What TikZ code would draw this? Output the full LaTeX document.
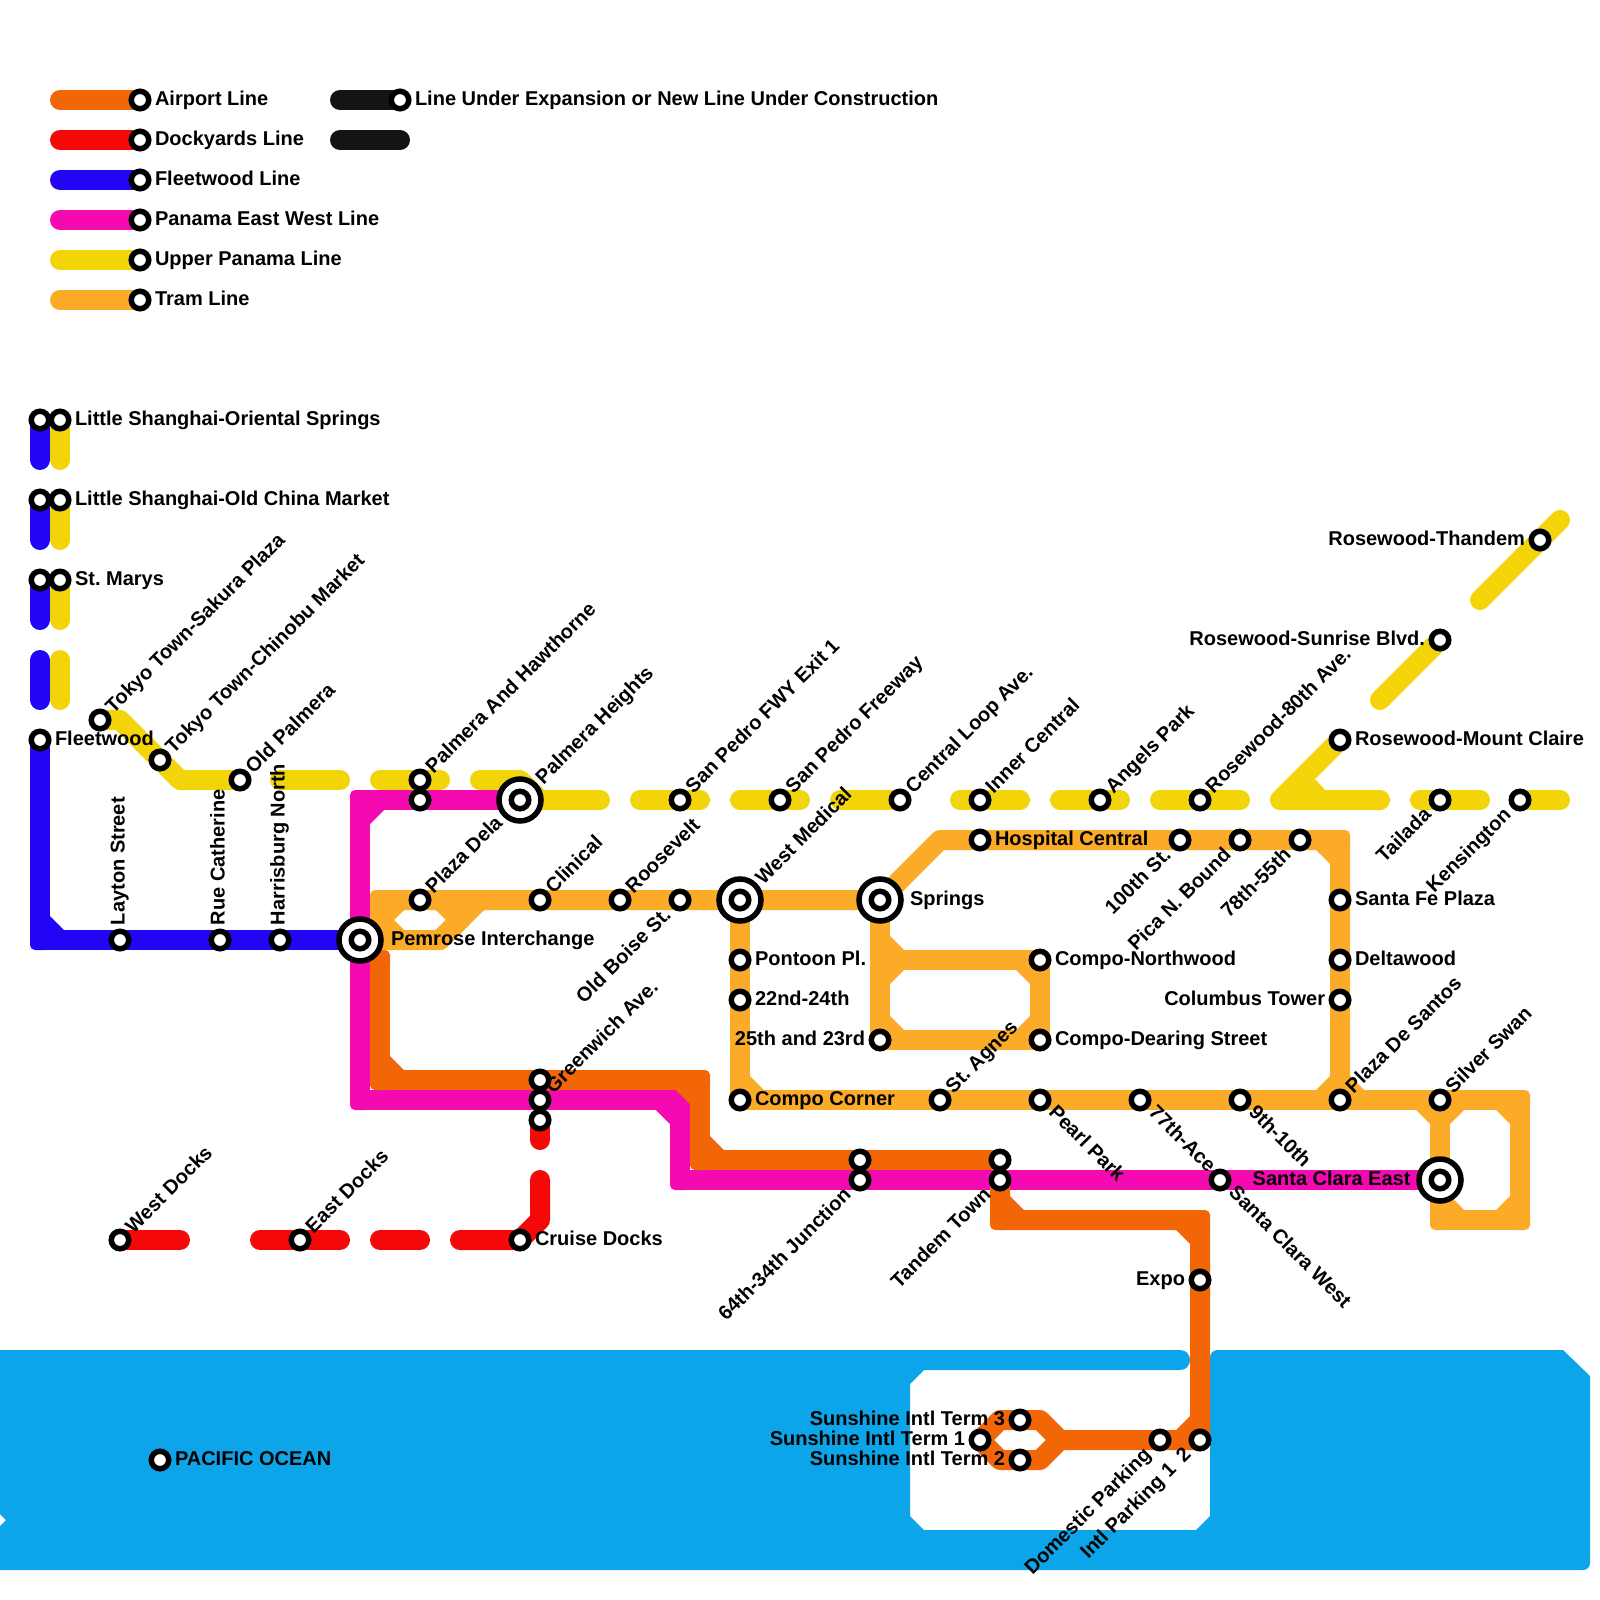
\documentclass[tikz,border=0pt]{standalone}
\usepackage{fontspec}
\setmainfont{Liberation Sans}[BoldFont={Liberation Sans Bold}]
\pgfdeclarelayer{water}
\pgfdeclarelayer{lines}
\pgfsetlayers{water,lines,main}
\definecolor{cAir}{HTML}{F36607}
\definecolor{cDock}{HTML}{F50808}
\definecolor{cFleet}{HTML}{2205F5}
\definecolor{cPan}{HTML}{F50AB2}
\definecolor{cUp}{HTML}{F2D408}
\definecolor{cTram}{HTML}{FBAB28}
\definecolor{cBlack}{HTML}{141414}
\definecolor{cWater}{HTML}{0DA5E9}
\tikzset{
  railway/.style={line width=10pt,line cap=round,line join=round},
  stn/.style={circle,draw=black,line width=2.75pt,fill=white,inner sep=0pt,outer sep=0pt,minimum size=8.75pt},
  hub/.style={circle,draw=black,line width=2.75pt,fill=white,inner sep=0pt,outer sep=0pt,minimum size=21pt},
  lbl/.style={inner sep=0pt,outer sep=0pt,text height=7.2pt,text depth=0pt,font=\fontsize{10}{12}\selectfont\bfseries\frenchspacing,text=black},
}
% station and interchange nodes
\newcommand\stn[3]{\node[stn] (#1) at (#2,#3) {};}
\newcommand\hub[3]{\node[hub] (#1) at (#2,#3) {};\node[stn] (#1-inner) at (#2,#3) {};}
% labels
\newcommand\tR[2]{\node[lbl,anchor=west] (#1-t) at ([shift={(15,-2)}]#1.center) {#2};}
\newcommand\tL[2]{\node[lbl,anchor=east] (#1-t) at ([shift={(-15,-2)}]#1.center) {#2};}
\newcommand\tU[2]{\node[lbl,anchor=west,rotate=90] (#1-t) at ([shift={(-2.5,-15)}]#1.center) {#2};}
\newcommand\tUR[2]{\node[lbl,anchor=west,rotate=45] (#1-t) at ([shift={(8.5,-11)}]#1.center) {#2};}
\newcommand\tDR[2]{\node[lbl,anchor=west,rotate=-45] (#1-t) at ([shift={(13,8.5)}]#1.center) {#2};}
\newcommand\tDL[2]{\node[lbl,anchor=east,rotate=45] (#1-t) at ([shift={(-13,11)}]#1.center) {#2};}
% corner details: rounded outer corner and chamfered inner corner
\newcommand\cham[4]{\fill[#1] ([shift={(10*#3,10*#4)}]#2) -- ([shift={(24*#3,10*#4)}]#2) -- ([shift={(10*#3,24*#4)}]#2) -- cycle;}
\newcommand\rnd[2]{\fill[#1,rounded corners=2.5pt] ([shift={(-10,-10)}]#2) rectangle ([shift={(10,10)}]#2);}
\newcommand\bend[4]{\rnd{#1}{#2}\cham{#1}{#2}{#3}{#4}}
\begin{document}
\begin{tikzpicture}[x=0.5pt,y=-0.5pt]
\useasboundingbox (0,0) rectangle (1600,1600);
% ---------- stations
\foreach \n/\y in {a/100,b/140,c/180,d/220,e/260,f/300}{\stn{leg\n}{140}{\y}}
\stn{legx}{400}{100}
\stn{ls1b}{40}{420}\stn{ls1y}{60}{420}
\stn{ls2b}{40}{500}\stn{ls2y}{60}{500}
\stn{ls3b}{40}{580}\stn{ls3y}{60}{580}
\stn{fleet}{40}{740}
\stn{layton}{120}{940}\stn{rue}{220}{940}\stn{harris}{280}{940}
\hub{pemrose}{360}{940}
\stn{sakura}{100}{720}\stn{chinobu}{160}{760}\stn{oldpal}{240}{780}
\stn{hawth}{420}{780}\stn{hawthb}{420}{800}
\hub{palmh}{520}{800}
\stn{sp1}{680}{800}\stn{sp2}{780}{800}\stn{cloop}{900}{800}\stn{inner}{980}{800}
\stn{angels}{1100}{800}\stn{rw80}{1200}{800}\stn{tail}{1440}{800}\stn{kens}{1520}{800}
\stn{rwmc}{1340}{740}\stn{rwsb}{1440}{640}\stn{rwth}{1540}{540}
\stn{dela}{420}{900}\stn{clin}{540}{900}\stn{roos}{620}{900}\stn{boise}{680}{900}
\hub{westm}{740}{900}\hub{springs}{880}{900}
\stn{pont}{740}{960}\stn{s22}{740}{1000}\stn{corner}{740}{1100}
\stn{s25}{880}{1040}\stn{cnorth}{1040}{960}\stn{cdear}{1040}{1040}
\stn{hosp}{980}{840}\stn{s100}{1180}{840}\stn{pica}{1240}{840}\stn{s78}{1300}{840}
\stn{fe}{1340}{900}\stn{delta}{1340}{960}\stn{colum}{1340}{1000}\stn{desant}{1340}{1100}
\stn{agnes}{940}{1100}\stn{pearl}{1040}{1100}\stn{ace}{1140}{1100}\stn{s9}{1240}{1100}\stn{swan}{1440}{1100}
\hub{sce}{1440}{1180}\stn{scw}{1220}{1180}
\stn{gr1}{540}{1080}\stn{gr2}{540}{1100}\stn{gr3}{540}{1120}
\stn{j64a}{860}{1160}\stn{j64b}{860}{1180}
\stn{tanda}{1000}{1160}\stn{tandb}{1000}{1180}
\stn{expo}{1200}{1280}\stn{intlp}{1200}{1440}\stn{domp}{1160}{1440}
\stn{term1}{980}{1440}\stn{term3}{1020}{1420}\stn{term2}{1020}{1460}
\stn{wdock}{120}{1240}\stn{edock}{300}{1240}\stn{cruise}{520}{1240}
\stn{ocean}{160}{1460}
% ---------- free ends and bends
\foreach \n/\x/\y in {%
la0/60/100,lb0/60/140,lc0/60/180,ld0/60/220,le0/60/260,lf0/60/300,lx0/340/100,ly0/340/140,ly1/400/140,%
b1/40/460,y1/60/460,b2/40/540,y2/60/540,b3/40/620,y3/60/620,b4a/40/660,b4b/40/700,y4a/60/660,y4b/60/700,%
fc/40/940,%
ya/120/720,yb/180/780,yc1/280/780,yc2/340/780,yd1/380/780,yd2/440/780,ye1/480/780,ye2/520/780,ye3/540/800,ye4/600/800,%
yf1/640/800,yf2/700/800,yg1/740/800,yg2/800/800,yh1/840/800,yi1/960/800,yi2/1020/800,yj1/1060/800,yj2/1120/800,%
yk1/1160/800,yk2/1240/800,yl1/1280/800,yl2/1380/800,ym1/1420/800,ym2/1480/800,yn2/1560/800,%
yo1/1380/700,yp1/1480/600,yp2/1560/520,%
mc1/360/800,mc2/360/1100,mc3/680/1100,mc4/680/1180,%
ob/380/960,oc/380/1080,od/700/1080,oe/700/1160,%
of/1000/1220,og/1200/1220,oh/1060/1440,oi/1040/1420,oj/1000/1420,ok/1040/1460,ol/1000/1460,%
ra/540/1140,rb/540/1180,rc/540/1220,rd/460/1240,re1/380/1240,re2/420/1240,rf1/260/1240,rf2/340/1240,rg/180/1240,%
ta/380/900,tb/380/940,tc/440/940,td/480/900,te/380/920,tf/400/900,tg/400/940,th/440/900,ti/460/920,%
tj/940/840,tk/1340/840,tl/1520/1100,tm/1520/1220,tn/1440/1220,to/880/960,tp/880/1040%
}{\coordinate (\n) at (\x,\y);}
% ---------- water
\begin{pgfonlayer}{water}
\fill[cWater] (0,1350) -- (1180,1350) .. controls (1193.3,1350) and (1193.3,1370) .. (1180,1370) -- (924,1370) -- (910,1384) -- (910,1516) -- (924,1530) -- (1196,1530) -- (1210,1516) -- (1210,1358) .. controls (1210,1353) and (1213,1350) .. (1218,1350) -- (1563,1350) -- (1590,1376) -- (1590,1563) .. controls (1590,1567) and (1587,1570) .. (1583,1570) -- (0,1570) -- (0,1526) -- (6,1520) -- (0,1514) -- cycle;
\end{pgfonlayer}
% ---------- lines
\begin{pgfonlayer}{lines}
% legend
\draw[railway,cAir] (la0)--(lega.center);
\draw[railway,cDock] (lb0)--(legb.center);
\draw[railway,cFleet] (lc0)--(legc.center);
\draw[railway,cPan] (ld0)--(legd.center);
\draw[railway,cUp] (le0)--(lege.center);
\draw[railway,cTram] (lf0)--(legf.center);
\draw[railway,cBlack] (lx0)--(legx.center);
\draw[railway,cBlack] (ly0)--(ly1);
% upper panama
\draw[railway,cUp] (ls1y.center)--(y1);
\draw[railway,cUp] (ls2y.center)--(y2);
\draw[railway,cUp] (ls3y.center)--(y3);
\draw[railway,cUp] (y4a)--(y4b);
\draw[railway,cUp] (sakura.center)--(ya)--(yb)--(oldpal.center);
\draw[railway,cUp] (yc1)--(yc2);
\draw[railway,cUp] (yd1)--(yd2);
\draw[railway,cUp] (ye1)--(ye2)--(ye3)--(ye4);
\draw[railway,cUp] (yf1)--(yf2);
\draw[railway,cUp] (yg1)--(yg2);
\draw[railway,cUp] (yh1)--(cloop.center);
\draw[railway,cUp] (yi1)--(yi2);
\draw[railway,cUp] (yj1)--(yj2);
\draw[railway,cUp] (yk1)--(yk2);
\draw[railway,cUp] (rwmc.center)--(yl1)--(yl2);
\fill[cUp] (1303,791) -- (1315,779) -- (1326,791) -- cycle;
\draw[railway,cUp] (ym1)--(ym2);
\draw[railway,cUp] (kens.center)--(yn2);
\draw[railway,cUp] (yo1)--(rwsb.center);
\draw[railway,cUp] (yp1)--(yp2);
% fleetwood
\draw[railway,cFleet] (ls1b.center)--(b1);
\draw[railway,cFleet] (ls2b.center)--(b2);
\draw[railway,cFleet] (ls3b.center)--(b3);
\draw[railway,cFleet] (b4a)--(b4b);
\draw[railway,cFleet] (fleet.center)--(fc)--(pemrose.center);
\bend{cFleet}{fc}{1}{-1}
% panama east west
\draw[railway,cPan] (palmh.center)--(mc1)--(mc2)--(mc3)--(mc4)--(sce.center);
\bend{cPan}{mc1}{1}{1}
\rnd{cPan}{mc2}
\cham{cPan}{mc3}{-1}{1}
\rnd{cPan}{mc4}
% airport
\draw[railway,cAir] (ob)--(oc)--(od)--(oe)--(tanda.center);
\rnd{cAir}{ob}
\bend{cAir}{oc}{1}{-1}
\bend{cAir}{od}{-1}{1}
\bend{cAir}{oe}{1}{-1}
\draw[railway,cAir] (tandb.center)--(of)--(og)--(intlp.center)--(domp.center)--(oh)--(oi)--(oj)--(term1.center)--(ol)--(ok)--(oh);
\bend{cAir}{of}{1}{-1}
\bend{cAir}{og}{-1}{1}
\cham{cAir}{intlp.center}{-1}{-1}
% dockyards
\draw[railway,cDock] (gr3.center)--(ra);
\draw[railway,cDock] (rb)--(rc)--(cruise.center)--(rd);
\draw[railway,cDock] (re1)--(re2);
\draw[railway,cDock] (rf1)--(rf2);
\draw[railway,cDock] (wdock.center)--(rg);
% tram
\draw[railway,cTram] (ta)--(westm.center)--(springs.center)--(tj)--(tk)--(desant.center);
\draw[railway,cTram] (ta)--(tb)--(tc)--(td);
\draw[railway,cTram] (te)--(tf);
\draw[railway,cTram] (te)--(tg);
\draw[railway,cTram] (th)--(ti)--(tc);
\rnd{cTram}{ta}
\draw[railway,cTram] (westm.center)--(corner.center)--(tl)--(tm)--(tn)--(swan.center);
\draw[railway,cTram] (springs.center)--(tp)--(cdear.center)--(cnorth.center)--(to);
\cham{cTram}{corner.center}{1}{-1}
\bend{cTram}{tk}{-1}{1}
\cham{cTram}{desant.center}{-1}{-1}
\cham{cTram}{desant.center}{1}{-1}
\cham{cTram}{swan.center}{-1}{1}
\cham{cTram}{swan.center}{1}{1}
\bend{cTram}{tl}{-1}{1}
\bend{cTram}{tm}{-1}{-1}
\bend{cTram}{tn}{1}{-1}
\cham{cTram}{to}{1}{-1}
\cham{cTram}{to}{1}{1}
\cham{cTram}{tp}{1}{-1}
\cham{cTram}{cnorth.center}{-1}{1}
\cham{cTram}{cdear.center}{-1}{-1}
\end{pgfonlayer}
% ---------- labels
\tR{lega}{Airport Line}\tR{legb}{Dockyards Line}\tR{legc}{Fleetwood Line}
\tR{legd}{Panama East West Line}\tR{lege}{Upper Panama Line}\tR{legf}{Tram Line}
\tR{legx}{Line Under Expansion or New Line Under Construction}
\tR{ls1y}{Little Shanghai-Oriental Springs}
\tR{ls2y}{Little Shanghai-Old China Market}
\tR{ls3y}{St. Marys}
\tR{fleet}{Fleetwood}
\tU{layton}{Layton Street}\tU{rue}{Rue Catherine}\tU{harris}{Harrisburg North}
\tR{pemrose}{\hspace{8pt}Pemrose Interchange}
\tUR{sakura}{Tokyo Town-Sakura Plaza}\tUR{chinobu}{Tokyo Town-Chinobu Market}\tUR{oldpal}{Old Palmera}
\tUR{hawth}{Palmera And Hawthorne}
\node[lbl,anchor=west,rotate=45] (palmh-t) at ([shift={(18.5,-20)}]palmh.center) {Palmera Heights};
\tUR{sp1}{San Pedro FWY Exit 1}\tUR{sp2}{San Pedro Freeway}\tUR{cloop}{Central Loop Ave.}
\tUR{inner}{Inner Central}\tUR{angels}{Angels Park}\tUR{rw80}{Rosewood-80th Ave.}
\tDL{tail}{Tailada}\tDL{kens}{Kensington}
\tR{rwmc}{Rosewood-Mount Claire}\tL{rwsb}{Rosewood-Sunrise Blvd.}\tL{rwth}{Rosewood-Thandem}
\tUR{dela}{Plaza Dela}\tUR{clin}{Clinical}\tUR{roos}{Roosevelt}\tDL{boise}{Old Boise St.}
\node[lbl,anchor=west,rotate=45] (westm-t) at ([shift={(18.5,-20)}]westm.center) {West Medical};
\tR{springs}{\hspace{7.5pt}Springs}
\tR{pont}{Pontoon Pl.}\tR{s22}{22nd-24th}\tR{corner}{Compo Corner}\tL{s25}{25th and 23rd}
\tR{cnorth}{Compo-Northwood}\tR{cdear}{Compo-Dearing Street}
\tR{hosp}{Hospital Central}\tDL{s100}{100th St.}\tDL{pica}{Pica N. Bound}\tDL{s78}{78th-55th}
\tR{fe}{Santa Fe Plaza}\tR{delta}{Deltawood}\tL{colum}{Columbus Tower}\tUR{desant}{Plaza De Santos}
\tUR{agnes}{St. Agnes}\tDR{pearl}{Pearl Park}\tDR{ace}{77th-Ace}\tDR{s9}{9th-10th}\tUR{swan}{Silver Swan}
\node[lbl,anchor=east] (sce-t) at ([shift={(-29.5,-2)}]sce.center) {Santa Clara East};
\tDR{scw}{Santa Clara West}
\tUR{gr2}{Greenwich Ave.}
\tDL{j64b}{64th-34th Junction}\tDL{tandb}{Tandem Town}
\tL{expo}{Expo}\tDL{intlp}{Intl Parking 1\hspace{5pt}2}\tDL{domp}{Domestic Parking}
\tL{term3}{Sunshine Intl Term 3}\tL{term1}{Sunshine Intl Term 1}\tL{term2}{Sunshine Intl Term 2}
\tUR{wdock}{West Docks}\tUR{edock}{East Docks}\tR{cruise}{Cruise Docks}
\tR{ocean}{PACIFIC OCEAN}
\end{tikzpicture}
\end{document}
